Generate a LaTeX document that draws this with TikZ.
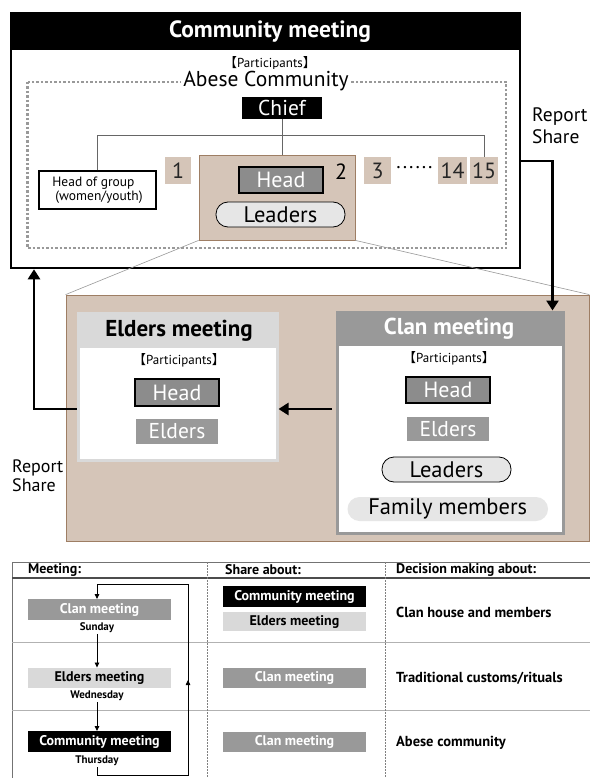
\documentclass[tikz,border=0pt]{standalone}
\usepackage{fontspec}
\setmainfont{PT Sans}
\newfontfamily\cjk{Noto Sans CJK JP}
\usetikzlibrary{arrows.meta}
\definecolor{tanfill}{HTML}{D5C5B8}
\definecolor{tanline}{HTML}{9E7E64}
\definecolor{gmid}{HTML}{999999}
\definecolor{glight}{HTML}{D9D9D9}
\definecolor{gdark}{HTML}{8C8C8C}
\definecolor{gpill}{HTML}{E6E6E6}
\newcommand\partic{{\cjk 【}Participants{\cjk 】}}
\newcommand\fs[1]{\fontsize{#1}{#1}\selectfont}
\begin{document}
\begin{tikzpicture}[x=1pt,y=-1pt,
  wh/.style 2 args={inner sep=0pt, minimum width=#1pt, minimum height=#2pt},
  numbox/.style={fill=tanfill, text=black!85, font=\fs{22}},
  headbox/.style={fill=gdark, draw=black, line width=1.8pt, text=white, font=\fs{22}},
  elderbox/.style={fill=gmid, text=white, font=\fs{21.5}},
  pill/.style={fill=gpill, draw=black, line width=0.8pt, rounded corners=12pt, font=\fs{22.5}},
  tree/.style={draw=black!60, line width=0.8pt},
  arr/.style={line width=2.5pt, -{Triangle[width=12pt,length=10pt]}},
  arrt/.style={line width=0.8pt, -{Triangle[width=4.5pt,length=5pt]}},
  tbox/.style={inner sep=0pt, minimum width=143pt, minimum height=20.5pt, font=\bfseries\fs{14}},
  day/.style={font=\bfseries\fs{11}, inner sep=1pt},
  hdr/.style={font=\bfseries\fs{14}, anchor=west, inner sep=0pt},
  dec/.style={font=\bfseries\fs{14.5}, anchor=west, inner sep=0pt}]
\useasboundingbox (0,0) rectangle (590,778);
\fill[white] (0,0) rectangle (590,778);

% ===== big tan area (behind) =====
\node[wh={523}{246}, fill=tanfill, draw=tanline, line width=0.8pt] (big) at (327.5,418) {};

% ===== Community meeting box =====
\node[wh={509}{255}, draw=black, fill=white, line width=2.5pt] (comm) at (265.5,140.5) {};
\fill[black] (11,13) rectangle (520,50);
\node[text=white, font=\bfseries\fs{23.5}] (commt) at (270,32) {Community meeting};
\node[font=\fs{13}] (p1) at (270,63) {\partic};
\draw[gmid, line width=2.5pt, dash pattern=on 2.5pt off 2pt] (27.5,82) rectangle (506,248);
\node[fill=white, inner sep=2pt, font=\fs{21.5}] (abese) at (266,81) {Abese Community};
\node[wh={80}{22}, fill=black, text=white, font=\fs{21.5}] (chief) at (282,108) {Chief};

\node[wh={156}{85}, fill=tanfill, draw=tanline, line width=0.8pt] (t2) at (277,197.5) {};
\node[wh={117}{38}, draw=black, fill=white, line width=1.4pt, align=left, font=\fs{13.5}] (hog) at (97.5,190) {Head of group\\[0.5pt]\hspace*{3pt}(women/youth)};
\node[numbox, wh={26.5}{27}] (n1) at (178,170.5) {1};
\node[numbox, wh={27}{27}] (n3) at (377.5,170.5) {3};
\node[font=\fs{20}, inner sep=0pt] (dots) at (414.5,170) {\textperiodcentered\hspace{1pt}\textperiodcentered\hspace{1pt}\textperiodcentered\hspace{1pt}\textperiodcentered\hspace{1pt}\textperiodcentered\hspace{1pt}\textperiodcentered};
\node[numbox, wh={29}{27}] (n14) at (452.5,170.5) {14};
\node[numbox, wh={27.5}{27}] (n15) at (484,170.5) {15};
\node[font=\fs{22}, inner sep=0pt] (n2) at (341,172) {2};
\node[headbox, wh={84}{26}] (h1) at (281,180) {Head};
\node[pill, wh={129}{25}] (l1) at (280.5,214.5) {Leaders};

\coordinate (hl) at (0,135);
\draw[tree] (chief.south) -- (chief.south |- t2.north);
\draw[tree] (hog.north) -- (hog.north |- hl) -- (n15.north |- hl) -- (n15.north);

\node[anchor=north west, align=left, font=\fs{19.5}, inner sep=0pt] (rs1) at (532,107) {Report\\[2.5pt]Share};

% ===== zoom lines =====
\draw[gmid, line width=0.6pt] (t2.south west) -- (big.north west);
\draw[gmid, line width=0.6pt] (t2.south east) -- (big.north east);

% ===== Elders meeting box =====
\node[wh={199}{147}, fill=white, draw=glight, line width=3pt] (eld) at (177.5,386.5) {};
\fill[glight] (78,313) rectangle (277,348);
\node[font=\bfseries\fs{23}] (eldt) at (179,331) {Elders meeting};
\node[font=\fs{13}] (p2) at (179,360) {\partic};
\node[headbox, wh={84}{27}] (h2) at (177,392.5) {Head};
\node[elderbox, wh={82}{25}] (e2) at (177,431.5) {Elders};

% ===== Clan meeting box =====
\node[wh={226.5}{221}, fill=white, draw=gmid, line width=3pt] (clan) at (450.25,422.5) {};
\fill[gmid] (337,312) rectangle (563.5,346);
\node[text=white, font=\bfseries\fs{23}] (clant) at (449,329) {Clan meeting};
\node[font=\fs{13}] (p3) at (449,358) {\partic};
\node[headbox, wh={84}{26}] (h3) at (448,390) {Head};
\node[elderbox, wh={82}{24}] (e3) at (448,429) {Elders};
\node[pill, wh={129}{25}] (l3) at (446.5,469.5) {Leaders};
\node[fill=gpill, rounded corners=12pt, wh={200.5}{24}, font=\fs{22.5}] (fm) at (447.75,509) {Family members};

\node[anchor=north west, align=left, font=\fs{18}, inner sep=0pt] (rs2) at (12,460) {Report\\[0.5pt]Share};

% ===== arrows =====
\coordinate (c409) at (332,409);
\draw[arr] ([yshift=-20.5pt]comm.east) -| ([xshift=-12.5pt]clan.north east);
\draw[arr] (c409) -- (eld.east |- c409);
\coordinate (lx) at (34,409);
\draw[arr] (eld.west |- c409) -- (lx) -- (lx |- comm.south);

% ===== table =====
\draw[black!55, line width=0.8pt] (12,778) -- (12,562) -- (590,562);
\draw[black!70, line width=1.5pt] (12,578) -- (590,578);
\draw[black!30, line width=1pt] (12,642) -- (590,642);
\draw[black!30, line width=1pt] (12,710) -- (590,710);
\draw[black!50, line width=0.7pt, dash pattern=on 1.5pt off 1.5pt] (207,562) -- (207,778);
\draw[black!50, line width=0.7pt, dash pattern=on 1.5pt off 1.5pt] (385,562) -- (385,778);
\node[hdr] (th1) at (28,570) {Meeting:};
\node[hdr] (th2) at (225,570) {Share about:};
\node[hdr] (th3) at (396,570) {Decision making about:};

\node[tbox, fill=gmid, text=white] (m1) at (99.5,609.5) {Clan meeting};
\node[day] (d1) at (97,627.5) {Sunday};
\node[tbox, fill=glight, text=black] (m2) at (99.5,678) {Elders meeting};
\node[day] (d2) at (97,696) {Wednesday};
\node[tbox, fill=black, text=white] (m3) at (99.5,741.5) {Community meeting};
\node[day] (d3) at (97,761) {Thursday};

\draw[arrt] (d1.south -| 97,0) -- (m2.north -| 97,0);
\draw[arrt] (d2.south -| 97,0) -- (m3.north -| 97,0);
\coordinate (lc1) at (188,775);
\coordinate (lc2) at (188,680);
\coordinate (lc3) at (97,584);
\draw[line width=0.8pt] (d3.south -| lc3) -- (lc3 |- lc1) -- (lc1) -- (lc2);
\draw[arrt] (lc1) -- (lc2);
\draw[arrt] (lc2) -- (lc2 |- lc3) -- (lc3) -- (lc3 |- m1.north);

\node[tbox, fill=black, text=white] (s1) at (294.5,596.5) {Community meeting};
\node[tbox, minimum height=19.5pt, fill=glight, text=black] (s2) at (294.5,621.5) {Elders meeting};
\node[tbox, fill=gmid, text=white] (s3) at (294.5,678) {Clan meeting};
\node[tbox, fill=gmid, text=white] (s4) at (294.5,742) {Clan meeting};

\node[dec] (r1) at (396,612) {Clan house and members};
\node[dec] (r2) at (396,678) {Traditional customs/rituals};
\node[dec] (r3) at (396,743) {Abese community};
\end{tikzpicture}
\end{document}
